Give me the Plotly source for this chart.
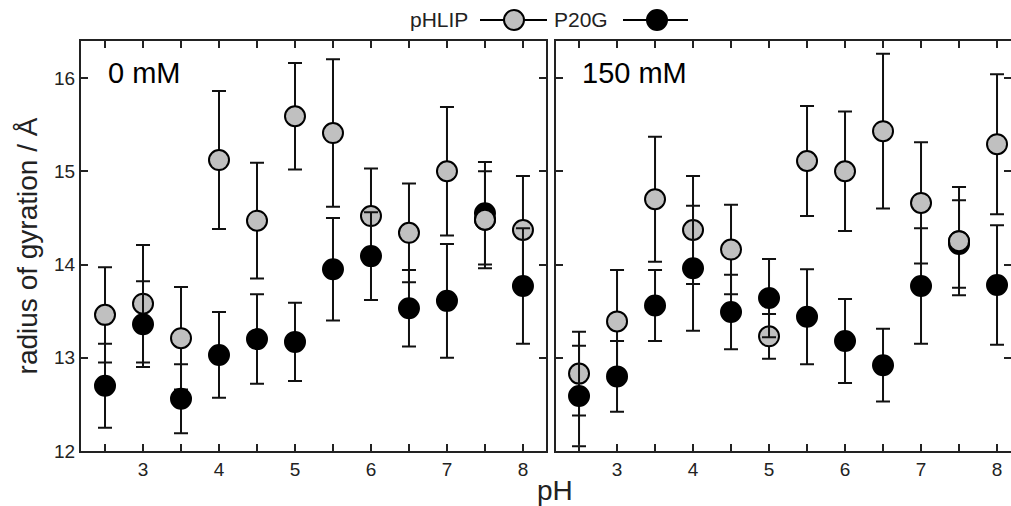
import plotly.graph_objects as go

ph = [2.5, 3, 3.5, 4, 4.5, 5, 5.5, 6, 6.5, 7, 7.5, 8]

# 0 mM panel
phlip_0 = [13.46, 13.58, 13.21, 15.12, 14.47, 15.59, 15.41, 14.52, 14.34, 15.00, 14.48, 14.37]
phlip_0_err = [0.51, 0.63, 0.55, 0.74, 0.62, 0.57, 0.79, 0.51, 0.53, 0.69, 0.52, 0.58]
p20g_0 = [12.70, 13.36, 12.56, 13.03, 13.20, 13.17, 13.95, 14.09, 13.53, 13.61, 14.55, 13.77]
p20g_0_err = [0.45, 0.46, 0.37, 0.46, 0.48, 0.42, 0.55, 0.47, 0.41, 0.61, 0.55, 0.62]

# 150 mM panel
phlip_150 = [12.83, 13.39, 14.70, 14.37, 14.16, 13.23, 15.11, 15.00, 15.43, 14.66, 14.25, 15.29]
phlip_150_err = [0.45, 0.55, 0.67, 0.58, 0.48, 0.24, 0.59, 0.64, 0.83, 0.65, 0.58, 0.75]
p20g_150 = [12.59, 12.80, 13.56, 13.96, 13.49, 13.64, 13.44, 13.18, 12.92, 13.77, 14.22, 13.78]
p20g_150_err = [0.54, 0.38, 0.38, 0.67, 0.40, 0.42, 0.51, 0.45, 0.39, 0.62, 0.47, 0.64]

# pH values where the grey (pHLIP) marker is drawn above the black one
grey_on_top_ph = [7.5]

x_tickvals = [2.5, 3, 3.5, 4, 4.5, 5, 5.5, 6, 6.5, 7, 7.5, 8]
x_ticktext = ["", "3", "", "4", "", "5", "", "6", "", "7", "", "8"]
y_tickvals = [12, 13, 14, 15, 16]

FONT = "Liberation Sans, Arial, sans-serif"
TXT = "#222222"
GRAY = "#c0c0c0"
W, H = 1011, 506

fig = go.Figure()

def add_series(x, y, err, fill, xa, ya, name):
    fig.add_trace(go.Scatter(
        x=x, y=y, mode="markers", name=name, showlegend=False,
        xaxis=xa, yaxis=ya,
        marker=dict(size=20, color=fill, line=dict(color="black", width=2)),
        error_y=dict(type="data", array=err, visible=True, color="#111111",
                     thickness=2, width=7),
    ))

def add_top_markers(x, y, fill, xa, ya, name):
    sel = [i for i, v in enumerate(x) if v in grey_on_top_ph]
    fig.add_trace(go.Scatter(
        x=[x[i] for i in sel], y=[y[i] for i in sel], mode="markers",
        name=name, showlegend=False, xaxis=xa, yaxis=ya, hoverinfo="skip",
        marker=dict(size=20, color=fill, line=dict(color="black", width=2)),
    ))

add_series(ph, phlip_0, phlip_0_err, GRAY, "x", "y", "pHLIP")
add_series(ph, p20g_0, p20g_0_err, "black", "x", "y", "P20G")
add_top_markers(ph, phlip_0, GRAY, "x", "y", "pHLIP")
add_series(ph, phlip_150, phlip_150_err, GRAY, "x2", "y2", "pHLIP")
add_series(ph, p20g_150, p20g_150_err, "black", "x2", "y2", "P20G")
add_top_markers(ph, phlip_150, GRAY, "x2", "y2", "pHLIP")

px = lambda v: v / W
py = lambda v: 1 - v / H

axis_common = dict(showline=True, linecolor="#222222", linewidth=2, mirror="ticks",
                   ticks="inside", ticklen=7, tickwidth=1.5, tickcolor="#222222",
                   showgrid=False, zeroline=False, automargin=False,
                   tickfont=dict(family=FONT, size=19, color=TXT))

fig.update_layout(
    width=W, height=H,
    margin=dict(l=0, r=0, t=0, b=0, autoexpand=False),
    paper_bgcolor="white", plot_bgcolor="white",
    showlegend=False,
    xaxis=dict(domain=[px(81), px(546)], range=[2.184, 8.303],
               tickmode="array", tickvals=x_tickvals, ticktext=x_ticktext,
               anchor="y", **axis_common),
    yaxis=dict(domain=[py(451), py(41)], range=[12, 16.397],
               tickmode="array", tickvals=y_tickvals,
               anchor="x", **axis_common,
               title=dict(text="radius of gyration / Å", standoff=8,
                          font=dict(family=FONT, size=28, color=TXT))),
    xaxis2=dict(domain=[px(556), 1.0], range=[2.197, 8.184],
                tickmode="array", tickvals=x_tickvals, ticktext=x_ticktext,
                anchor="y2", **axis_common),
    yaxis2=dict(domain=[py(451), py(41)], range=[12, 16.397],
                tickmode="array", tickvals=y_tickvals, showticklabels=False,
                anchor="x2", **axis_common),
)

annotations = [
    dict(text="0 mM", x=px(106), y=py(73), xref="paper", yref="paper",
         xanchor="left", yanchor="middle", showarrow=False,
         font=dict(family=FONT, size=29, color="black")),
    dict(text="150 mM", x=px(580), y=py(73), xref="paper", yref="paper",
         xanchor="left", yanchor="middle", showarrow=False,
         font=dict(family=FONT, size=29, color="black")),
    dict(text="pH", x=px(555), y=py(490), xref="paper", yref="paper",
         xanchor="center", yanchor="middle", showarrow=False,
         font=dict(family=FONT, size=28, color=TXT)),
    dict(text="pHLIP", x=px(470), y=py(20), xref="paper", yref="paper",
         xanchor="right", yanchor="middle", showarrow=False,
         font=dict(family=FONT, size=21, color=TXT)),
    dict(text="P20G", x=px(552), y=py(20), xref="paper", yref="paper",
         xanchor="left", yanchor="middle", showarrow=False,
         font=dict(family=FONT, size=21, color=TXT)),
]
fig.update_layout(annotations=annotations)

shapes = []
for (x0, x1, cx, fill) in [(480, 547, 514, GRAY), (623, 688, 657, "black")]:
    shapes.append(dict(type="line", xref="paper", yref="paper",
                       x0=px(x0), x1=px(x1), y0=py(20), y1=py(20),
                       line=dict(color="black", width=2)))
    shapes.append(dict(type="circle", xref="paper", yref="paper",
                       xsizemode="pixel", ysizemode="pixel",
                       xanchor=px(cx), yanchor=py(20),
                       x0=-10, x1=10, y0=-10, y1=10,
                       fillcolor=fill, line=dict(color="black", width=2)))
fig.update_layout(shapes=shapes)

fig.write_html("out.html")
